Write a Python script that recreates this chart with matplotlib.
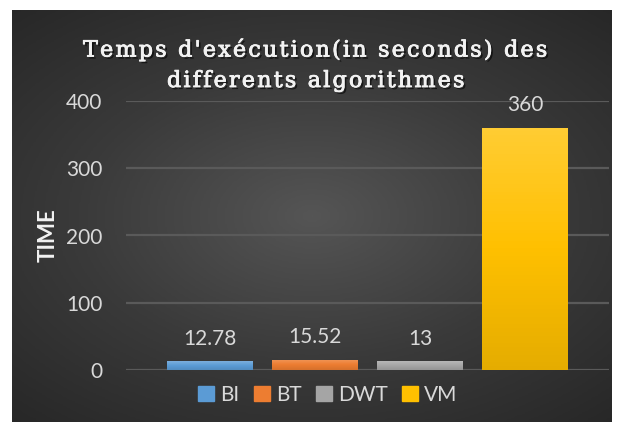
import numpy as np
import matplotlib.pyplot as plt
import matplotlib.patheffects as pe
from matplotlib.colors import LinearSegmentedColormap, to_rgb

# data
series = ["BI", "BT", "DWT", "VM"]
times = [12.78, 15.52, 13, 360]
labels = ["12.78", "15.52", "13", "360"]
colors = ["#5B9BD5", "#ED7D31", "#A5A5A5", "#FFC000"]
yticks = [0, 100, 200, 300, 400]

W, H = 621, 423
fig = plt.figure(figsize=(W / 100, H / 100), dpi=100, facecolor="white")

# dark radial-gradient chart area
bg = fig.add_axes([12 / W, 1 / H, 600 / W, 412 / H])
yy, xx = np.mgrid[-1:1:300j, -1:1:400j]
r = np.sqrt((xx * 0.9) ** 2 + (yy * 1.0) ** 2)
cmap_bg = LinearSegmentedColormap.from_list("bg", ["#555555", "#3a3a3a", "#262626"])
bg.imshow(r, cmap=cmap_bg, aspect="auto", vmin=0, vmax=1.4)
bg.set_axis_off()

ax = fig.add_axes([126 / W, 53 / H, 483 / W, 269 / H])
ax.patch.set_alpha(0)

x = np.arange(len(series))
bars = ax.bar(x, times, width=0.81, color=colors, zorder=3,
              path_effects=[pe.SimplePatchShadow(offset=(0, -1), shadow_rgbFace="black", alpha=0.35), pe.Normal()])

# soft vertical gradient on each bar (lighter top, darker bottom)
grad = np.linspace(1, 0, 64).reshape(-1, 1)
for b, c in zip(bars, colors):
    base = np.array(to_rgb(c))
    top = base * 0.8 + 0.2
    bot = base * 0.9
    cm = LinearSegmentedColormap.from_list("g", [bot, base, top])
    im = ax.imshow(grad, cmap=cm, aspect="auto", zorder=4,
                   extent=[b.get_x(), b.get_x() + b.get_width(), 0, b.get_height()])
    im.set_clip_path(b)

for b, lab in zip(bars, labels):
    ax.annotate(lab, (b.get_x() + b.get_width() / 2, b.get_height()),
                xytext=(0, 12), textcoords="offset points", ha="center", va="baseline",
                color="#D9D9D9", fontsize=15, family="Lato", zorder=5)

ax.set_xlim(-0.8, 3.8)
ax.set_ylim(0, 400)
ax.set_yticks(yticks)
ax.set_xticks([])
ax.yaxis.grid(True, color="#5a5a5a", linewidth=1.6, zorder=0)
for s in ax.spines.values():
    s.set_visible(False)
ax.tick_params(axis="y", length=0, pad=17, labelcolor="#D9D9D9", labelsize=15)
for t in ax.get_yticklabels():
    t.set_family("Lato")
ax.set_ylabel("TIME", color="#F2F2F2", fontsize=16, fontweight="bold", family="Lato")
ax.yaxis.set_label_coords(-0.140, 0.5)

title_lines = ["Temps d'exécution(in seconds) des", "differents algorithmes"]
# letter spacing via hair spaces
title = "\n".join("\u200a".join(line) for line in title_lines)
fig.text(316 / W, 1 - 65 / H, title, ha="center", va="center", color="#F2F2F2",
         fontsize=16, family="DejaVu Serif", linespacing=1.5,
         path_effects=[pe.withSimplePatchShadow(offset=(1.5, -1.5), shadow_rgbFace="black", alpha=0.6),
                       pe.withStroke(linewidth=0.6, foreground="#F2F2F2")])

handles = [plt.Rectangle((0, 0), 1, 1, color=c) for c in colors]
fig.legend(handles, series, loc="center", bbox_to_anchor=(328 / W, 1 - 395 / H), ncol=4,
           frameon=False, handlelength=0.75, handleheight=0.75, handletextpad=0.3,
           columnspacing=0.7, prop={"family": "Lato", "size": 15}, labelcolor="#D9D9D9")

fig.savefig("out.png", dpi=100)
